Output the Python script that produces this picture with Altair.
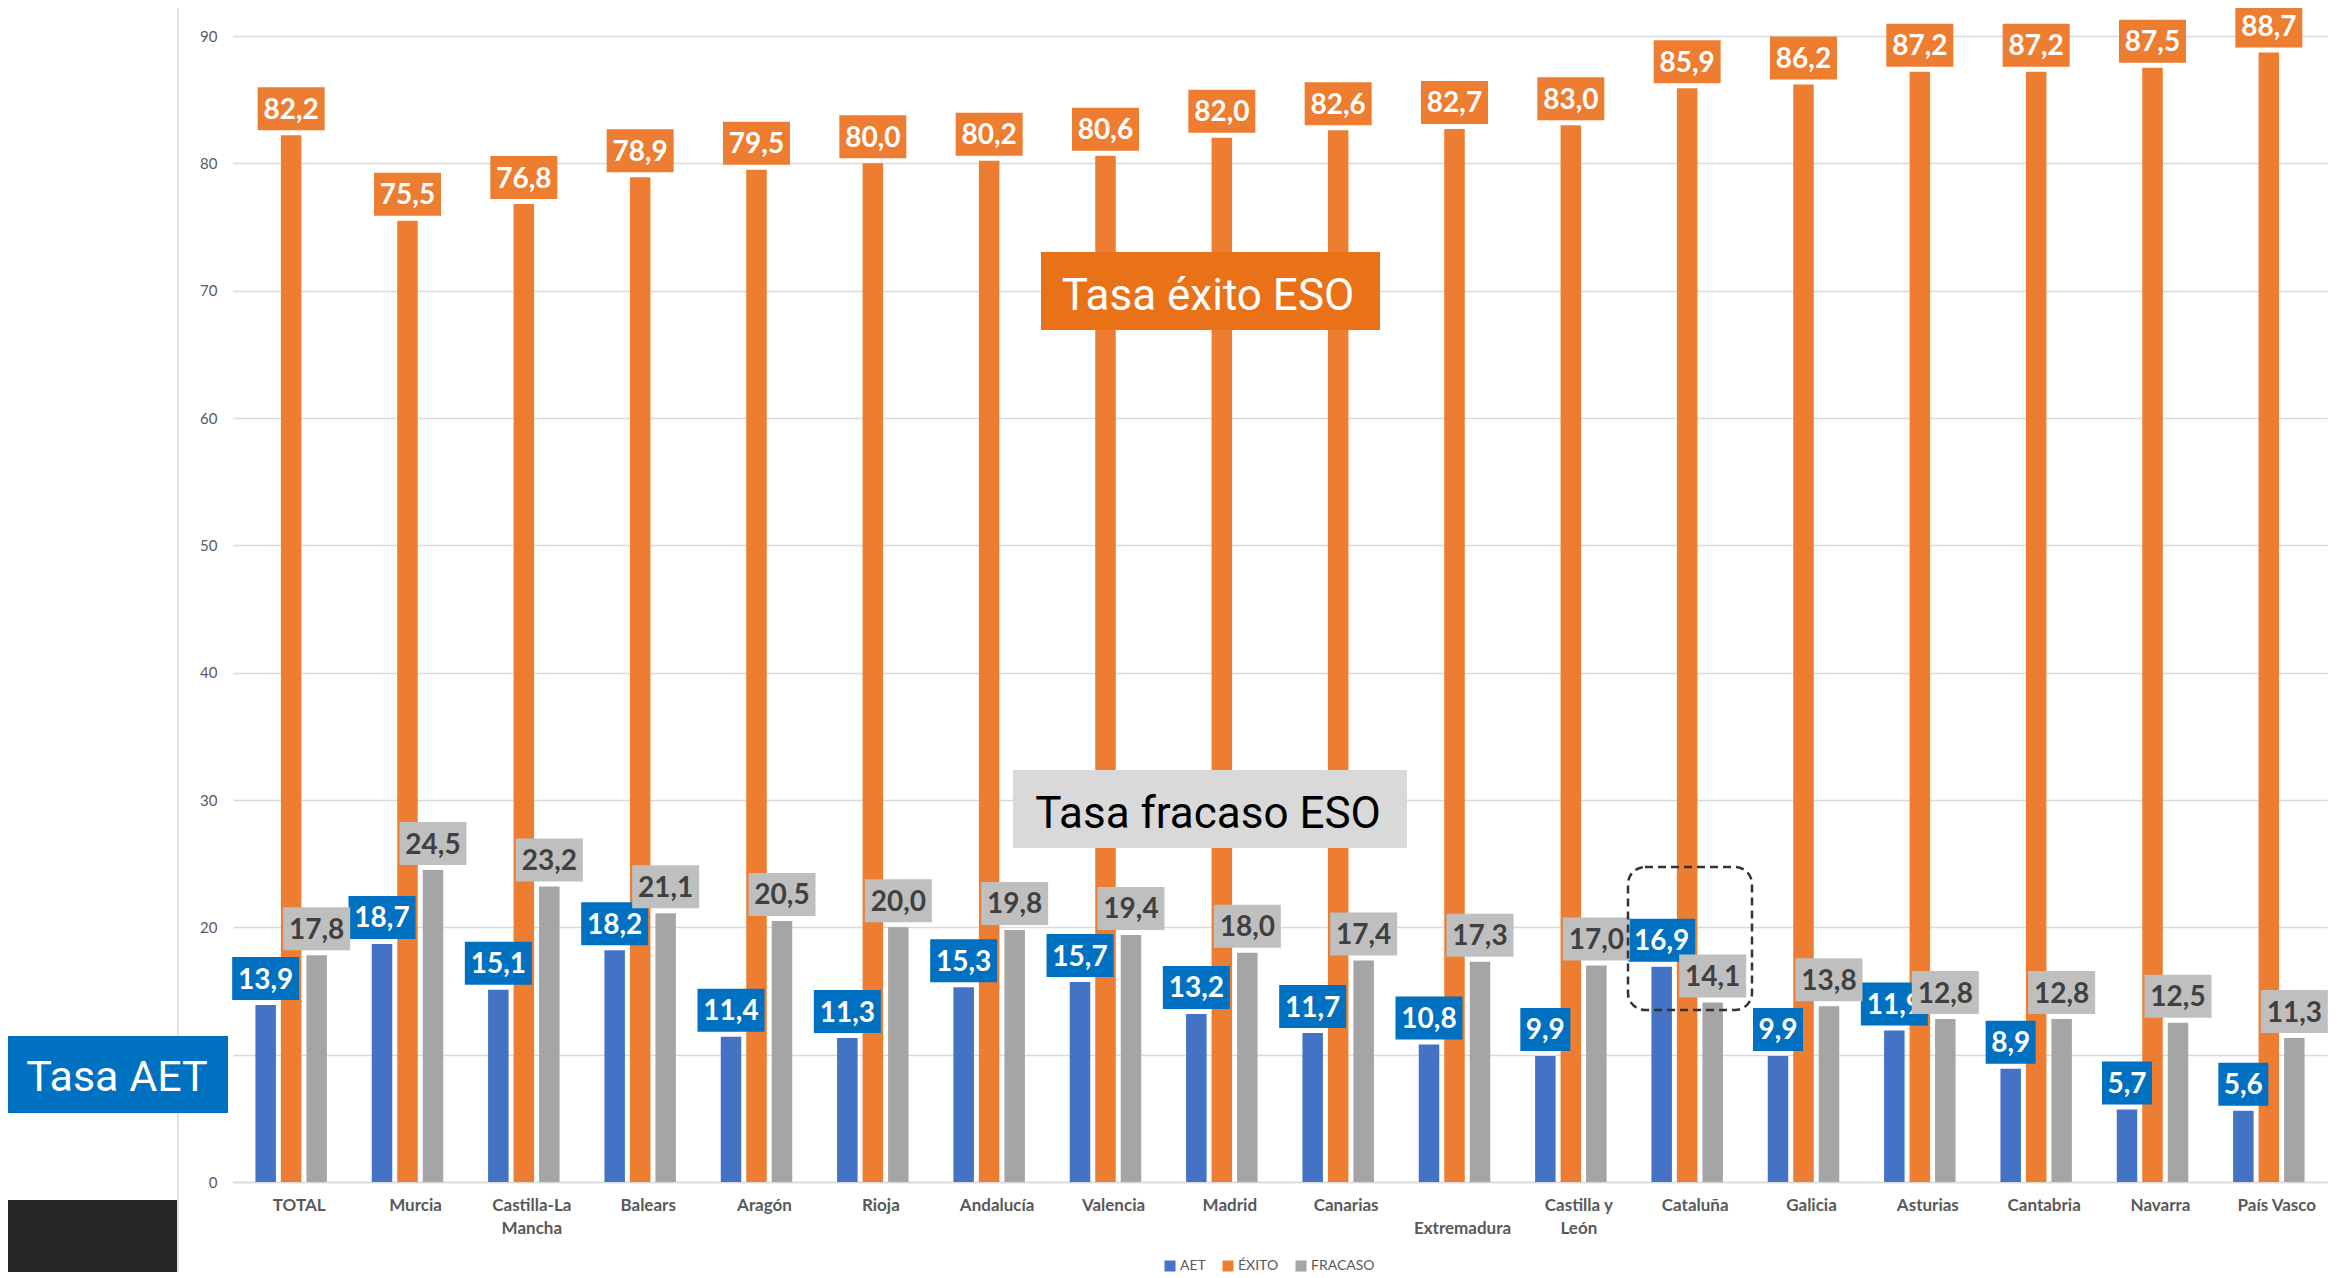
import altair as alt
import pandas as pd

regions = ["TOTAL", "Murcia", "Castilla-La Mancha", "Balears", "Aragón", "Rioja",
           "Andalucía", "Valencia", "Madrid", "Canarias", "Extremadura",
           "Castilla y León", "Cataluña", "Galicia", "Asturias", "Cantabria",
           "Navarra", "País Vasco"]
aet = [13.9, 18.7, 15.1, 18.2, 11.4, 11.3, 15.3, 15.7, 13.2, 11.7, 10.8, 9.9,
       16.9, 9.9, 11.9, 8.9, 5.7, 5.6]
exito = [82.2, 75.5, 76.8, 78.9, 79.5, 80.0, 80.2, 80.6, 82.0, 82.6, 82.7, 83.0,
         85.9, 86.2, 87.2, 87.2, 87.5, 88.7]
fracaso = [17.8, 24.5, 23.2, 21.1, 20.5, 20.0, 19.8, 19.4, 18.0, 17.4, 17.3, 17.0,
           14.1, 13.8, 12.8, 12.8, 12.5, 11.3]
series = ["AET", "ÉXITO", "FRACASO"]
y_ticks = [0, 10, 20, 30, 40, 50, 60, 70, 80, 90]

bar_colors = ["#4472C4", "#ED7D31", "#A5A5A5"]
box_colors = ["#0070C0", "#ED7D31", "#BFBFBF"]
text_colors = ["#FFFFFF", "#FFFFFF", "#404040"]

rows = []
for s, vals in zip(series, [aet, exito, fracaso]):
    for r, v in zip(regions, vals):
        lab = f"{v:.1f}".replace(".", ",")
        rows.append({"region": r, "serie": s, "value": v, "label": lab, "n": len(lab)})
df = pd.DataFrame(rows)
one = pd.DataFrame({"k": [0]})

label_expr = ("datum.value == 'Castilla-La Mancha' ? ['Castilla-La', 'Mancha'] : "
              "datum.value == 'Castilla y León' ? ['Castilla y', 'León'] : "
              "datum.value == 'Extremadura' ? ['', 'Extremadura'] : datum.value")

x_axis = alt.Axis(title=None, labelAngle=0, ticks=False, domain=True,
                  domainColor="#D9D9D9", domainWidth=1.5, labelFont="Lato",
                  labelFontWeight="bold", labelFontSize=17, labelColor="#595959",
                  labelPadding=15, labelLineHeight=23, labelOffset=8,
                  labelOverlap=False, labelExpr=label_expr)
y_axis = alt.Axis(values=y_ticks, title=None, grid=True, gridColor="#D9D9D9",
                  gridWidth=1.3, domain=False, ticks=False, labelFont="Lato",
                  labelFontSize=15, labelColor="#595959", labelPadding=16)
x_scale = alt.Scale(paddingInner=0.3855, paddingOuter=0.19275)
xo_scale = alt.Scale(paddingInner=0.196, paddingOuter=0)
y_scale = alt.Scale(domain=[0, 90], nice=False)


def xy():
    return dict(
        x=alt.X("region:N", sort=regions, scale=x_scale, axis=x_axis),
        xOffset=alt.XOffset("serie:N", sort=series, scale=xo_scale),
        y=alt.Y("value:Q", scale=y_scale, axis=y_axis),
    )


bars = alt.Chart(df).mark_bar().encode(
    color=alt.Color("serie:N", sort=series,
                    scale=alt.Scale(domain=series, range=bar_colors),
                    legend=alt.Legend(title=None, orient="none", legendX=930, legendY=1223,
                                      direction="horizontal", symbolType="square",
                                      symbolSize=121, symbolStrokeWidth=0,
                                      labelFont="Lato", labelFontSize=14,
                                      labelColor="#595959", columnPadding=15,
                                      labelOffset=3, padding=0)),
    **xy())

path4 = "M-1,-0.6418L1,-0.6418L1,0.6418L-1,0.6418Z"
path3 = "M-0.7463,-0.6418L0.7463,-0.6418L0.7463,0.6418L-0.7463,0.6418Z"

label_layers = []
for i, s in enumerate(series):
    base = alt.Chart(df).transform_filter(alt.datum.serie == s)
    boxes = base.mark_point(filled=True, size=4489, opacity=1, strokeWidth=0,
                            yOffset=-26.5).encode(
        fill=alt.value(box_colors[i]),
        shape=alt.Shape("n:O", scale=alt.Scale(domain=[3, 4], range=[path3, path4]),
                        legend=None),
        **xy())
    texts = base.mark_text(font="Lato", fontWeight="bold", fontSize=28,
                           baseline="alphabetic", align="center", dy=-16.5,
                           color=text_colors[i]).encode(text="label:N", **xy())
    label_layers += [boxes, texts]


def rect(x, x2, y, y2, **kw):
    return alt.Chart(one).mark_rect(**kw).encode(
        x=alt.value(x), x2=alt.value(x2), y=alt.value(y), y2=alt.value(y2))


def note(text, x, y, color, size):
    return alt.Chart(one).mark_text(text=text, font="Roboto", fontSize=size, color=color,
                                    align="center", baseline="alphabetic").encode(
        x=alt.value(x), y=alt.value(y))


dark_block = rect(-233, -56, 1164, 1250, color="#262626")
vline = alt.Chart(one).mark_rule(color="#D9D9D9", strokeWidth=1.5).encode(
    x=alt.value(-55), y=alt.value(-40), y2=alt.value(1250))

exito_box = rect(808, 1147, 216, 294, color="#E97219")
exito_txt = note("Tasa éxito ESO", 975, 274, "#FFFFFF", 44)
fracaso_box = rect(780, 1174, 734, 812, color="#D9D9D9")
fracaso_txt = note("Tasa fracaso ESO", 975, 792, "#000000", 44)
aet_box = rect(-227, -5, 1000, 1077, color="#0070C0")
aet_txt = note("Tasa AET", -116, 1055, "#FFFFFF", 43)
dashed = rect(1395, 1519, 831, 974, filled=False, stroke="#333333", strokeWidth=2.5,
              strokeDash=[8, 5], cornerRadius=17)

chart = alt.layer(
    bars, dark_block, vline, exito_box, exito_txt, fracaso_box, fracaso_txt,
    *label_layers, aet_box, aet_txt, dashed
).properties(
    width=2094, height=1146,
    background="#FFFFFF",
    autosize=alt.AutoSizeParams(type="none"),
    padding={"left": 225, "top": 28, "right": 6, "bottom": 90},
).configure_view(stroke=None)

chart.save("out.html", embed_options={"renderer": "svg", "actions": False})
